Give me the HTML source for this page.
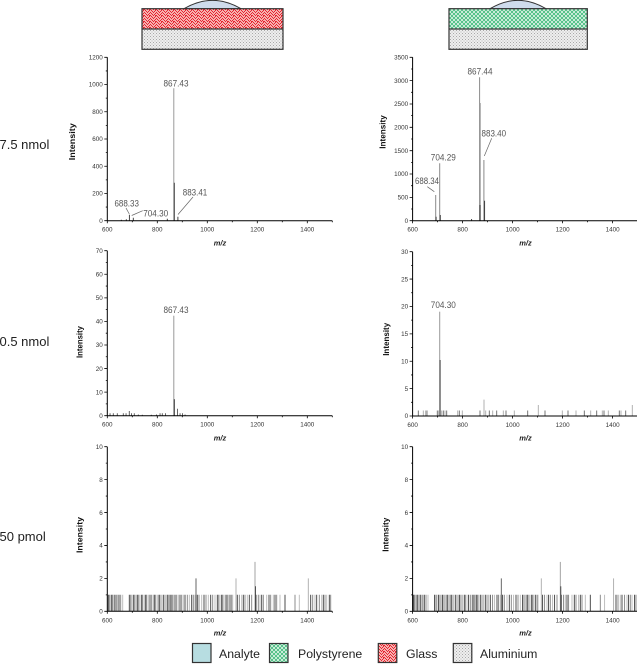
<!DOCTYPE html>
<html>
<head>
<meta charset="utf-8">
<style>
html,body{margin:0;padding:0;background:#fff;}
svg{display:block;}
text{font-family:"Liberation Sans",Arial,sans-serif;}
</style>
</head>
<body>
<svg width="637" height="664" viewBox="0 0 637 664" xmlns="http://www.w3.org/2000/svg">
<defs>
  <pattern id="pRed" width="6" height="6" patternUnits="userSpaceOnUse">
    <rect width="6" height="6" fill="#f7b0b0"/>
    <path d="M0,0h1v1h-1zM3,0h1v1h-1zM1,1h1v1h-1zM5,1h1v1h-1zM2,2h1v1h-1zM4,2h1v1h-1zM0,3h1v1h-1zM3,3h1v1h-1zM1,4h1v1h-1zM5,4h1v1h-1zM2,5h1v1h-1zM4,5h1v1h-1zM5,3h1v1h-1z" fill="#e4252f"/>
  </pattern>
  <pattern id="pGreen" width="4" height="4" patternUnits="userSpaceOnUse">
    <rect width="4" height="4" fill="#e6f7ec"/>
    <path d="M0,0L4,4M4,0L0,4" stroke="#3cb878" stroke-width="0.8"/>
  </pattern>
  <pattern id="pGray" width="3" height="3" patternUnits="userSpaceOnUse">
    <rect width="3" height="3" fill="#eeeeee"/>
    <rect x="0" y="0" width="1" height="1" fill="#a8a8a8"/>
    <rect x="1.5" y="1.5" width="1" height="1" fill="#b8b8b8"/>
  </pattern>
  <g id="bnoise">
    <path d="M1,0v-16.5M4.4,0v-16.5M7.7,0v-16.5M11.7,0v-16.5M22,0v-16.5M26,0v-16.5M30,0v-16.5M34.4,0v-16.5M38.4,0v-16.5M42.7,0v-16.5M47,0v-16.5M51.7,0v-16.5M56,0v-16.5M60.4,0v-16.5M63.7,0v-16.5M67.7,0v-16.5M72.7,0v-16.5M77.7,0v-16.5M84.4,0v-16.5M90,0v-16.5M96.7,0v-16.5M103.4,0v-16.5M110,0v-16.5M114.4,0v-16.5M118.7,0v-16.5M122.7,0v-16.5M130,0v-16.5M136,0v-16.5M142,0v-16.5M148.7,0v-16.5M154.4,0v-16.5M161.7,0v-16.5M167.7,0v-16.5M177.7,0v-16.5M203.4,0v-16.5M209.4,0v-16.5M216,0v-16.5M222,0v-16.5" stroke="#3a3a3a" stroke-width="0.9"/>
    <path d="M2,0v-16.5M5.4,0v-16.5M9.4,0v-16.5M13.4,0v-16.5M23.4,0v-16.5M27.4,0v-16.5M31.4,0v-16.5M35.4,0v-16.5M39.4,0v-16.5M44.4,0v-16.5M48.4,0v-16.5M52.7,0v-16.5M57.7,0v-16.5M61.7,0v-16.5M65,0v-16.5M69.4,0v-16.5M74.4,0v-16.5M80,0v-16.5M86,0v-16.5M91.7,0v-16.5M98.7,0v-16.5M105.4,0v-16.5M111.4,0v-16.5M115.4,0v-16.5M120,0v-16.5M124.4,0v-16.5M132,0v-16.5M137.7,0v-16.5M144.4,0v-16.5M151,0v-16.5M156,0v-16.5M163.4,0v-16.5M169.4,0v-16.5M187.7,0v-16.5M205.4,0v-16.5M212,0v-16.5M217.7,0v-16.5M223.4,0v-16.5" stroke="#808080" stroke-width="0.9"/>
    <path d="M3,0v-16.5M6.7,0v-16.5M10.4,0v-16.5M15.4,0v-16.5M24.4,0v-16.5M28.7,0v-16.5M32.7,0v-16.5M37,0v-16.5M41,0v-16.5M46,0v-16.5M50,0v-16.5M54.4,0v-16.5M59.4,0v-16.5M62.7,0v-16.5M66,0v-16.5M71,0v-16.5M76,0v-16.5M82,0v-16.5M87.7,0v-16.5M94.4,0v-16.5M101,0v-16.5M107.7,0v-16.5M112.7,0v-16.5M116.7,0v-16.5M121,0v-16.5M125.4,0v-16.5M134.4,0v-16.5M140,0v-16.5M152.7,0v-16.5M159.4,0v-16.5M166,0v-16.5M172.7,0v-16.5M192,0v-16.5M207.7,0v-16.5M214.4,0v-16.5M219.4,0v-16.5" stroke="#b8b8b8" stroke-width="0.9"/>
    <path d="M88.7,0v-32.9" stroke="#555" stroke-width="0.9"/>
    <path d="M128.7,0v-32.9M201,0v-32.9" stroke="#aaa" stroke-width="0.9"/>
    <path d="M147.7,0v-49.4" stroke="#999" stroke-width="0.9"/>
    <path d="M148.2,0v-25" stroke="#444" stroke-width="0.9"/>
  </g>
</defs>

<!-- Top diagrams -->
<path d="M184,8.7 Q212.5,-8 241,8.7 Z" fill="#cfdcec" stroke="#333" stroke-width="1"/>
<rect x="142" y="8.7" width="141" height="20.3" fill="url(#pRed)"/>
<rect x="142" y="29" width="141" height="20.3" fill="url(#pGray)"/>
<rect x="142" y="8.7" width="141" height="40.6" fill="none" stroke="#333" stroke-width="1.2"/>
<path d="M142,29H283" stroke="#333" stroke-width="1.2"/>

<path d="M490,8.7 Q518,-8 546,8.7 Z" fill="#cfdcec" stroke="#333" stroke-width="1"/>
<rect x="449" y="8.7" width="138.3" height="20.3" fill="url(#pGreen)"/>
<rect x="449" y="29" width="138.3" height="20.3" fill="url(#pGray)"/>
<rect x="449" y="8.7" width="138.3" height="40.6" fill="none" stroke="#333" stroke-width="1.2"/>
<path d="M449,29H587.3" stroke="#333" stroke-width="1.2"/>

<!-- Row labels -->
<text x="-0.5" y="149" font-size="13" fill="#222">7.5 nmol</text>
<text x="-0.5" y="346" font-size="13" fill="#222">0.5 nmol</text>
<text x="-0.5" y="541" font-size="13" fill="#222">50 pmol</text>

<!-- ========== TOP LEFT ========== -->
<g transform="translate(107.3,220.7)">
  <path d="M66.5,0V-132.4" stroke="#9a9a9a" stroke-width="1"/>
  <path d="M67,0V-38M70.6,0V-4M22.1,0V-6M26,0V-3M60,0V-2M14,0V-1M19,0v-1.5" stroke="#333" stroke-width="0.9"/>
  <path d="M0,0H225M0,0V-163.4" stroke="#000" stroke-width="1" fill="none"/>
  <path d="M0,0h-3M0,-27.23h-3M0,-54.47h-3M0,-81.7h-3M0,-108.93h-3M0,-136.17h-3M0,-163.4h-3M0,-13.62h-1.5M0,-40.85h-1.5M0,-68.08h-1.5M0,-95.32h-1.5M0,-122.55h-1.5M0,-149.78h-1.5M0,0v2.5M50,0v2.5M100,0v2.5M150,0v2.5M200,0v2.5M25,0v1.5M75,0v1.5M125,0v1.5M175,0v1.5M225,0v1.5" stroke="#000" stroke-width="0.8"/>
  <g font-size="6.3" fill="#333" text-anchor="end">
    <text x="-4.5" y="2.2">0</text>
    <text x="-4.5" y="-25.03">200</text>
    <text x="-4.5" y="-52.27">400</text>
    <text x="-4.5" y="-79.5">600</text>
    <text x="-4.5" y="-106.73">800</text>
    <text x="-4.5" y="-133.97">1000</text>
    <text x="-4.5" y="-161.2">1200</text>
  </g>
  <g font-size="6.3" fill="#333" text-anchor="middle">
    <text x="0" y="11">600</text>
    <text x="50" y="11">800</text>
    <text x="100" y="11">1000</text>
    <text x="150" y="11">1200</text>
    <text x="200" y="11">1400</text>
  </g>
</g>
<path d="M193,197L178,214.5M126,208L129.3,214M142.7,210.7L131.7,215.5" stroke="#666" stroke-width="0.7" fill="none"/>
<g font-size="9" fill="#555" text-anchor="middle">
  <text x="176" y="86.5" textLength="25" lengthAdjust="spacingAndGlyphs">867.43</text>
  <text x="195" y="195.3" textLength="24.5" lengthAdjust="spacingAndGlyphs">883.41</text>
  <text x="126.7" y="206.3" textLength="24.5" lengthAdjust="spacingAndGlyphs">688.33</text>
  <text x="155.7" y="216.5" textLength="25" lengthAdjust="spacingAndGlyphs">704.30</text>
</g>
<text x="220" y="245.5" font-size="7.5" font-weight="bold" font-style="italic" fill="#222" text-anchor="middle">m/z</text>
<text transform="translate(75,141.7) rotate(-90)" font-size="8.5" font-weight="bold" fill="#111" text-anchor="middle" textLength="37" lengthAdjust="spacingAndGlyphs">Intensity</text>

<!-- ========== TOP RIGHT ========== -->
<g transform="translate(412.6,220.7)">
  <path d="M67,0V-143.4M71.3,0V-60.7M27.1,0V-57.4M23.1,0V-25.7" stroke="#8a8a8a" stroke-width="1"/>
  <path d="M67.8,0V-117.7" stroke="#aaa" stroke-width="0.9"/>
  <path d="M72,0V-20M27.7,0V-5.7M23.5,0V-4M59,0V-1.7M67.4,0V-15.7" stroke="#333" stroke-width="0.9"/>
  <path d="M0,0H226M0,0V-163.4" stroke="#000" stroke-width="1" fill="none"/>
  <path d="M0,0h-3M0,-23.34h-3M0,-46.69h-3M0,-70.03h-3M0,-93.37h-3M0,-116.71h-3M0,-140.06h-3M0,-163.4h-3M0,-11.67h-1.5M0,-35.01h-1.5M0,-58.36h-1.5M0,-81.7h-1.5M0,-105.04h-1.5M0,-128.39h-1.5M0,-151.73h-1.5M0,0v2.5M50,0v2.5M100,0v2.5M150,0v2.5M200,0v2.5M25,0v1.5M75,0v1.5M125,0v1.5M175,0v1.5" stroke="#000" stroke-width="0.8"/>
  <g font-size="6.3" fill="#333" text-anchor="end">
    <text x="-4.5" y="2.2">0</text>
    <text x="-4.5" y="-21.14">500</text>
    <text x="-4.5" y="-44.49">1000</text>
    <text x="-4.5" y="-67.83">1500</text>
    <text x="-4.5" y="-91.17">2000</text>
    <text x="-4.5" y="-114.51">2500</text>
    <text x="-4.5" y="-137.86">3000</text>
    <text x="-4.5" y="-161.2">3500</text>
  </g>
  <g font-size="6.3" fill="#333" text-anchor="middle">
    <text x="0" y="11">600</text>
    <text x="50" y="11">800</text>
    <text x="100" y="11">1000</text>
    <text x="150" y="11">1200</text>
    <text x="200" y="11">1400</text>
  </g>
</g>
<path d="M491.7,138.3L484.3,156M427.3,186.7L434.3,191.7" stroke="#666" stroke-width="0.7" fill="none"/>
<g font-size="9" fill="#555" text-anchor="middle">
  <text x="480" y="74.3" textLength="25" lengthAdjust="spacingAndGlyphs">867.44</text>
  <text x="493.8" y="136.5" textLength="24.5" lengthAdjust="spacingAndGlyphs">883.40</text>
  <text x="443.3" y="160.3" textLength="25" lengthAdjust="spacingAndGlyphs">704.29</text>
  <text x="427" y="184" textLength="24" lengthAdjust="spacingAndGlyphs">688.34</text>
</g>
<text x="525.5" y="245.5" font-size="7.5" font-weight="bold" font-style="italic" fill="#222" text-anchor="middle">m/z</text>
<text transform="translate(385.5,132) rotate(-90)" font-size="8.5" font-weight="bold" fill="#111" text-anchor="middle" textLength="33.5" lengthAdjust="spacingAndGlyphs">Intensity</text>

<!-- ========== MIDDLE LEFT ========== -->
<g transform="translate(107.3,415.7)">
  <path d="M66.5,0V-100" stroke="#999" stroke-width="1"/>
  <path d="M67,0V-16.5" stroke="#333" stroke-width="1"/>
  <path d="M2.75,0v-2.4M6,0v-2.4M10,0v-2.4M16,0v-2.4M18.75,0v-2.4M22,0v-4.7M24.25,0v-2.4M27,0v-2.4M31,0v-1.2M49.25,0v-1.2M52.75,0v-2.4M55,0v-2.4M58.25,0v-2.4M70.25,0v-7M72.75,0v-2.4M75.25,0v-2.4M77.75,0v-1.2M35,0v-1M44,0v-1" stroke="#555" stroke-width="0.9"/>
  <path d="M0,0H225M0,0V-165" stroke="#000" stroke-width="1" fill="none"/>
  <path d="M0,0h-3M0,-23.57h-3M0,-47.14h-3M0,-70.71h-3M0,-94.29h-3M0,-117.86h-3M0,-141.43h-3M0,-165h-3M0,-11.79h-1.5M0,-35.36h-1.5M0,-58.93h-1.5M0,-82.5h-1.5M0,-106.07h-1.5M0,-129.64h-1.5M0,-153.21h-1.5M0,0v2.5M50,0v2.5M100,0v2.5M150,0v2.5M200,0v2.5M25,0v1.5M75,0v1.5M125,0v1.5M175,0v1.5M225,0v1.5" stroke="#000" stroke-width="0.8"/>
  <g font-size="6.3" fill="#333" text-anchor="end">
    <text x="-4.5" y="2.2">0</text>
    <text x="-4.5" y="-21.37">10</text>
    <text x="-4.5" y="-44.94">20</text>
    <text x="-4.5" y="-68.51">30</text>
    <text x="-4.5" y="-92.09">40</text>
    <text x="-4.5" y="-115.66">50</text>
    <text x="-4.5" y="-139.23">60</text>
    <text x="-4.5" y="-162.8">70</text>
  </g>
  <g font-size="6.3" fill="#333" text-anchor="middle">
    <text x="0" y="11">600</text>
    <text x="50" y="11">800</text>
    <text x="100" y="11">1000</text>
    <text x="150" y="11">1200</text>
    <text x="200" y="11">1400</text>
  </g>
</g>
<text x="176" y="313.2" font-size="9" fill="#555" text-anchor="middle" textLength="25" lengthAdjust="spacingAndGlyphs">867.43</text>
<text x="220" y="440.5" font-size="7.5" font-weight="bold" font-style="italic" fill="#222" text-anchor="middle">m/z</text>
<text transform="translate(82.5,342) rotate(-90)" font-size="8.5" font-weight="bold" fill="#111" text-anchor="middle" textLength="32" lengthAdjust="spacingAndGlyphs">Intensity</text>

<!-- ========== MIDDLE RIGHT ========== -->
<g transform="translate(412.6,416)">
  <path d="M27.1,0V-104.3" stroke="#999" stroke-width="1"/>
  <path d="M27.5,0V-56" stroke="#444" stroke-width="1"/>
  <path d="M5.7,0v-5.5M13.4,0v-5.5M24.7,0v-5.5M30.7,0v-5.5M34.1,0v-5.5M46.7,0v-5.5M67.4,0v-5.5M76.7,0v-5.5M84.1,0v-5.5M93.4,0v-5.5M115.1,0v-5.5M132.4,0v-5.5M155.4,0v-5.5M171.7,0v-5.5M184.1,0v-5.5M191.4,0v-5.5M206.7,0v-5.5M213.1,0v-5.5" stroke="#666" stroke-width="0.9"/>
  <path d="M10.7,0v-5.5M14.7,0v-5.5M26.1,0v-5.5M29.1,0v-5.5M32.4,0v-5.5M45.1,0v-5.5M49.7,0v-5.5M73.1,0v-5.5M80.1,0v-5.5M90.7,0v-5.5M101.7,0v-5.5M149.7,0v-5.5M163.4,0v-5.5M178.1,0v-5.5M189.7,0v-5.5M195.7,0v-5.5M208.4,0v-5.5" stroke="#a8a8a8" stroke-width="0.9"/>
  <path d="M71.4,0v-16.4M125.7,0v-11M219.7,0v-11" stroke="#aaa" stroke-width="0.9"/>
  <path d="M0,0H226M0,0V-164.3" stroke="#000" stroke-width="1" fill="none"/>
  <path d="M0,0h-3M0,-27.38h-3M0,-54.77h-3M0,-82.15h-3M0,-109.53h-3M0,-136.92h-3M0,-164.3h-3M0,-13.69h-1.5M0,-41.08h-1.5M0,-68.46h-1.5M0,-95.84h-1.5M0,-123.23h-1.5M0,-150.61h-1.5M0,0v2.5M50,0v2.5M100,0v2.5M150,0v2.5M200,0v2.5M25,0v1.5M75,0v1.5M125,0v1.5M175,0v1.5" stroke="#000" stroke-width="0.8"/>
  <g font-size="6.3" fill="#333" text-anchor="end">
    <text x="-4.5" y="2.2">0</text>
    <text x="-4.5" y="-25.18">5</text>
    <text x="-4.5" y="-52.57">10</text>
    <text x="-4.5" y="-79.95">15</text>
    <text x="-4.5" y="-107.33">20</text>
    <text x="-4.5" y="-134.72">25</text>
    <text x="-4.5" y="-162.1">30</text>
  </g>
  <g font-size="6.3" fill="#333" text-anchor="middle">
    <text x="0" y="11">600</text>
    <text x="50" y="11">800</text>
    <text x="100" y="11">1000</text>
    <text x="150" y="11">1200</text>
    <text x="200" y="11">1400</text>
  </g>
</g>
<text x="443.3" y="307.9" font-size="9" fill="#555" text-anchor="middle" textLength="25" lengthAdjust="spacingAndGlyphs">704.30</text>
<text x="525.5" y="440.5" font-size="7.5" font-weight="bold" font-style="italic" fill="#222" text-anchor="middle">m/z</text>
<text transform="translate(389,339.3) rotate(-90)" font-size="8.5" font-weight="bold" fill="#111" text-anchor="middle" textLength="33" lengthAdjust="spacingAndGlyphs">Intensity</text>

<!-- ========== BOTTOM LEFT ========== -->
<g transform="translate(107.3,611.3)">
  <use href="#bnoise"/>
  <path d="M0,0H225M0,0V-164.6" stroke="#000" stroke-width="1" fill="none"/>
  <path d="M0,0h-3M0,-32.92h-3M0,-65.84h-3M0,-98.76h-3M0,-131.68h-3M0,-164.6h-3M0,-16.46h-1.5M0,-49.38h-1.5M0,-82.3h-1.5M0,-115.22h-1.5M0,-148.14h-1.5M0,0v2.5M50,0v2.5M100,0v2.5M150,0v2.5M200,0v2.5M25,0v1.5M75,0v1.5M125,0v1.5M175,0v1.5M225,0v1.5" stroke="#000" stroke-width="0.8"/>
  <g font-size="6.3" fill="#333" text-anchor="end">
    <text x="-4.5" y="2.2">0</text>
    <text x="-4.5" y="-30.72">2</text>
    <text x="-4.5" y="-63.64">4</text>
    <text x="-4.5" y="-96.56">6</text>
    <text x="-4.5" y="-129.48">8</text>
    <text x="-4.5" y="-162.4">10</text>
  </g>
  <g font-size="6.3" fill="#333" text-anchor="middle">
    <text x="0" y="11">600</text>
    <text x="50" y="11">800</text>
    <text x="100" y="11">1000</text>
    <text x="150" y="11">1200</text>
    <text x="200" y="11">1400</text>
  </g>
</g>
<text x="220" y="635.5" font-size="7.5" font-weight="bold" font-style="italic" fill="#222" text-anchor="middle">m/z</text>
<text transform="translate(82.5,535) rotate(-90)" font-size="8.5" font-weight="bold" fill="#111" text-anchor="middle" textLength="36" lengthAdjust="spacingAndGlyphs">Intensity</text>

<!-- ========== BOTTOM RIGHT ========== -->
<g transform="translate(412.6,611.3)">
  <use href="#bnoise"/>
  <path d="M0,0H226M0,0V-164.6" stroke="#000" stroke-width="1" fill="none"/>
  <path d="M0,0h-3M0,-32.92h-3M0,-65.84h-3M0,-98.76h-3M0,-131.68h-3M0,-164.6h-3M0,-16.46h-1.5M0,-49.38h-1.5M0,-82.3h-1.5M0,-115.22h-1.5M0,-148.14h-1.5M0,0v2.5M50,0v2.5M100,0v2.5M150,0v2.5M200,0v2.5M25,0v1.5M75,0v1.5M125,0v1.5M175,0v1.5" stroke="#000" stroke-width="0.8"/>
  <g font-size="6.3" fill="#333" text-anchor="end">
    <text x="-4.5" y="2.2">0</text>
    <text x="-4.5" y="-30.72">2</text>
    <text x="-4.5" y="-63.64">4</text>
    <text x="-4.5" y="-96.56">6</text>
    <text x="-4.5" y="-129.48">8</text>
    <text x="-4.5" y="-162.4">10</text>
  </g>
  <g font-size="6.3" fill="#333" text-anchor="middle">
    <text x="0" y="11">600</text>
    <text x="50" y="11">800</text>
    <text x="100" y="11">1000</text>
    <text x="150" y="11">1200</text>
    <text x="200" y="11">1400</text>
  </g>
</g>
<text x="525.5" y="635.5" font-size="7.5" font-weight="bold" font-style="italic" fill="#222" text-anchor="middle">m/z</text>
<text transform="translate(388.5,534.7) rotate(-90)" font-size="8.5" font-weight="bold" fill="#111" text-anchor="middle" textLength="34" lengthAdjust="spacingAndGlyphs">Intensity</text>

<!-- ========== LEGEND ========== -->
<rect x="192.5" y="643.5" width="18.5" height="19" fill="#b7dde1" stroke="#333" stroke-width="1.2"/>
<text x="219" y="657.8" font-size="12.3" fill="#222">Analyte</text>
<rect x="269.5" y="643.5" width="18.5" height="19" fill="url(#pGreen)" stroke="#333" stroke-width="1.2"/>
<text x="298" y="657.8" font-size="12.3" fill="#222">Polystyrene</text>
<rect x="378.3" y="643.5" width="18.5" height="19" fill="url(#pRed)" stroke="#333" stroke-width="1.2"/>
<text x="406" y="657.8" font-size="12.3" fill="#222">Glass</text>
<rect x="453.3" y="643.5" width="18.5" height="19" fill="url(#pGray)" stroke="#333" stroke-width="1.2"/>
<text x="480" y="657.8" font-size="12.3" fill="#222">Aluminium</text>
</svg>
</body>
</html>
